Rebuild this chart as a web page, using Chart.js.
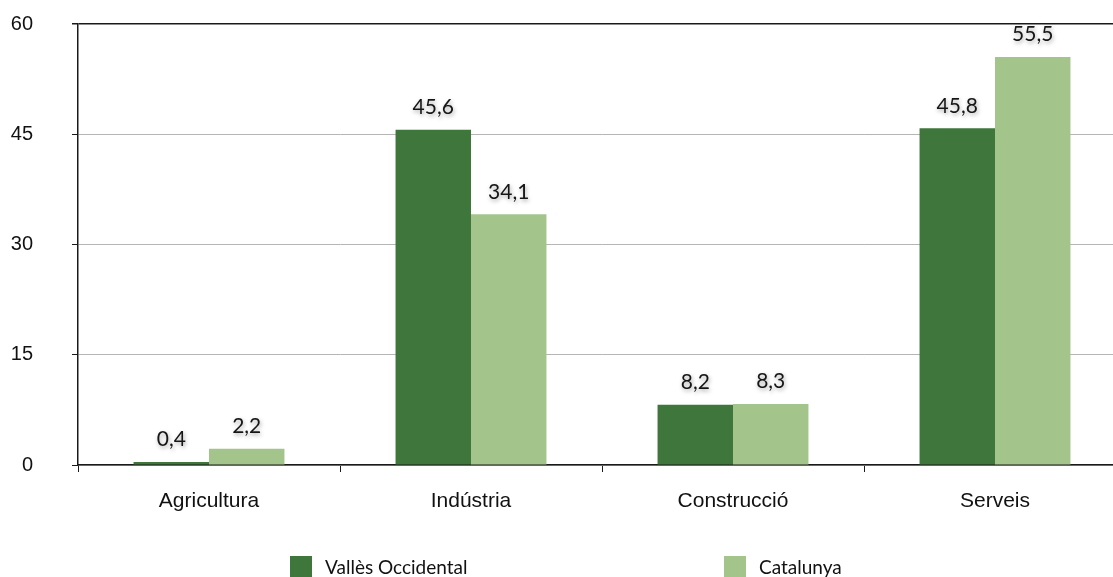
<!DOCTYPE html>
<html>
<head>
<meta charset="utf-8">
<script src="https://cdn.jsdelivr.net/npm/chart.js@4.4.1/dist/chart.umd.min.js"></script>
<style>
    html, body { margin: 0; padding: 0; background: #fff; overflow: hidden; }
    #wrap { position: relative; width: 1126px; height: 577px; }
    .legend { position: absolute; top: 556px; font-family: Lato, sans-serif; font-size: 19px; color: #111; }
    .legend span.box { position: absolute; top: 0; left: 0; width: 22px; height: 22px; }
    .legend span.txt { position: absolute; left: 35px; top: -1px; white-space: nowrap; line-height: 24px; }
</style>
</head>
<body>
<div id="wrap">
    <canvas id="sectorChart" width="1126" height="577"></canvas>
    <div class="legend" style="left:290px"><span class="box" id="box0"></span><span class="txt" id="txt0"></span></div>
    <div class="legend" style="left:724px"><span class="box" id="box1"></span><span class="txt" id="txt1"></span></div>
</div>
<script>
const sectors = ['Agricultura', 'Indústria', 'Construcció', 'Serveis'];
const seriesNames = ['Vallès Occidental', 'Catalunya'];
const vallesValues = [0.4, 45.6, 8.2, 45.8];
const catalunyaValues = [2.2, 34.1, 8.3, 55.5];
const yTicks = [0, 15, 30, 45, 60];

const darkGreen = '#3e763b';
const lightGreen = '#a3c48b';

// HTML legend, spread out under the chart
document.getElementById('box0').style.background = darkGreen;
document.getElementById('box1').style.background = lightGreen;
document.getElementById('txt0').textContent = seriesNames[0];
document.getElementById('txt1').textContent = seriesNames[1];

// value labels above each bar, comma decimal, with a soft shadow
const valueLabels = {
    id: 'valueLabels',
    afterDatasetsDraw(chart) {
        const ctx = chart.ctx;
        ctx.save();
        ctx.font = '21px Lato, sans-serif';
        ctx.textAlign = 'center';
        ctx.textBaseline = 'bottom';
        ctx.fillStyle = '#161616';
        ctx.shadowColor = 'rgba(0, 0, 0, 0.35)';
        ctx.shadowBlur = 4;
        ctx.shadowOffsetX = 1;
        ctx.shadowOffsetY = 2;
        chart.data.datasets.forEach(function(ds, i) {
            chart.getDatasetMeta(i).data.forEach(function(bar, j) {
                const text = ds.data[j].toFixed(1).replace('.', ',');
                ctx.fillText(text, bar.x, bar.y - 12);
            });
        });
        ctx.restore();
    }
};

const ctx = document.getElementById('sectorChart').getContext('2d');
new Chart(ctx, {
    type: 'bar',
    data: {
        labels: sectors,
        datasets: [
            {
                label: seriesNames[0],
                data: vallesValues,
                backgroundColor: darkGreen,
                borderWidth: 0,
                categoryPercentage: 0.576,
                barPercentage: 1.0
            },
            {
                label: seriesNames[1],
                data: catalunyaValues,
                backgroundColor: lightGreen,
                borderWidth: 0,
                categoryPercentage: 0.576,
                barPercentage: 1.0
            }
        ]
    },
    options: {
        responsive: false,
        animation: false,
        layout: { padding: { top: 24, right: 0, bottom: 0, left: 0 } },
        plugins: {
            legend: { display: false },
            tooltip: { enabled: false }
        },
        scales: {
            x: {
                afterFit: function(scale) { scale.height = 112; },
                border: { display: true, color: '#1a1a1a', width: 1.5 },
                grid: {
                    offset: true,
                    drawOnChartArea: false,
                    drawTicks: true,
                    tickLength: 7,
                    tickColor: '#1a1a1a'
                },
                ticks: {
                    padding: 17,
                    color: '#111',
                    font: { family: '"Liberation Sans", Arial, sans-serif', size: 21 }
                }
            },
            y: {
                min: 0,
                max: 60,
                afterFit: function(scale) {
                    scale.width = 78;
                    // the wide label gap shouldn't push the plot down
                    scale.paddingTop = 12;
                    scale.paddingBottom = 12;
                },
                afterBuildTicks: function(scale) {
                    scale.ticks = yTicks.map(function(v) { return { value: v }; });
                },
                border: { display: true, color: '#1a1a1a', width: 1.5 },
                grid: {
                    color: function(c) { return c.tick && c.tick.value === 60 ? '#1a1a1a' : '#b5b5b5'; },
                    lineWidth: function(c) { return c.tick && c.tick.value === 60 ? 1.5 : 1; },
                    tickLength: 6,
                    tickColor: '#1a1a1a'
                },
                ticks: {
                    padding: 39,
                    color: '#111',
                    font: { family: '"Liberation Sans", Arial, sans-serif', size: 20 }
                }
            }
        }
    },
    plugins: [valueLabels]
});
</script>
</body>
</html>
